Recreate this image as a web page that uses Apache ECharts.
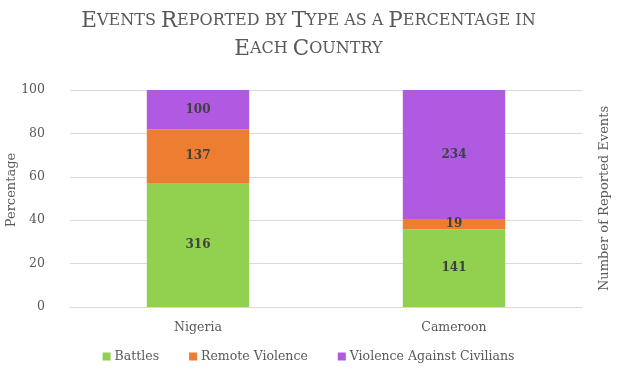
<!DOCTYPE html>
<html>
<head>
<meta charset="utf-8">
<script src="https://cdn.jsdelivr.net/npm/echarts@6/dist/echarts.min.js"></script>
<style>
  html, body { margin: 0; padding: 0; background: #fff; }
  #chart { width: 617px; height: 377px; }
</style>
</head>
<body>
<div id="chart"></div>
<script>
const countries = ["Nigeria", "Cameroon"];
const battles = [316, 141];
const remoteViolence = [137, 19];
const violenceCivilians = [100, 234];
const yTicks = [0, 20, 40, 60, 80, 100];

const FONT = "DejaVu Serif";
const colors = ["#92D050", "#ED7D31", "#B05AE2"];

// share of each country's total, counts shown as labels
const totals = countries.map((c, i) => battles[i] + remoteViolence[i] + violenceCivilians[i]);
function toPct(arr) {
  return arr.map((v, i) => ({ value: v / totals[i] * 100, count: v }));
}

function makeSeries(name, arr, idx) {
  return {
    name: name,
    type: "bar",
    stack: "total",
    barWidth: "40%",
    itemStyle: { color: colors[idx] },
    label: {
      show: true,
      position: "inside",
      formatter: (p) => p.data.count,
      fontFamily: FONT,
      fontWeight: "bold",
      fontSize: 12,
      color: "#404040",
    },
    data: toPct(arr),
  };
}

const chart = echarts.init(document.getElementById("chart"));
chart.setOption({
  animation: false,
  title: {
    left: "center",
    top: 2,
    text: "{b|E}{s|VENTS} {b|R}{s|EPORTED BY} {b|T}{s|YPE AS A} {b|P}{s|ERCENTAGE IN}\n{b|E}{s|ACH} {b|C}{s|OUNTRY}",
    textStyle: {
      fontWeight: "normal",
      rich: {
        b: { fontFamily: FONT, fontSize: 21.5, fontWeight: "normal", color: "#595959", lineHeight: 28 },
        s: { fontFamily: FONT, fontSize: 16, fontWeight: "normal", color: "#595959", lineHeight: 28 },
      },
    },
  },
  graphic: [
    {
      type: "text",
      x: 5,
      y: 190,
      rotation: Math.PI / 2,
      style: {
        text: "Percentage",
        fontFamily: FONT,
        fontSize: 13,
        fill: "#595959",
        align: "center",
        verticalAlign: "top",
      },
    },
  ],
  legend: {
    bottom: 9,
    left: "center",
    icon: "rect",
    itemWidth: 8,
    itemHeight: 8,
    itemGap: 30,
    textStyle: { fontFamily: FONT, fontSize: 12.5, color: "#595959", padding: [0, 0, 0, -1] },
    data: ["Battles", "Remote Violence", "Violence Against Civilians"],
  },
  grid: { left: 70, right: 35, top: 90, bottom: 70, outerBoundsMode: "none" },
  xAxis: {
    type: "category",
    data: countries,
    axisTick: { show: false },
    axisLine: { lineStyle: { color: "#d9d9d9" } },
    axisLabel: { fontFamily: FONT, fontSize: 12.5, color: "#595959", margin: 14 },
  },
  yAxis: [
    {
      type: "value",
      min: yTicks[0],
      max: yTicks[yTicks.length - 1],
      interval: 20,
      axisLabel: { fontFamily: FONT, fontSize: 12.5, color: "#595959", margin: 25 },
      splitLine: { lineStyle: { color: "#d9d9d9" } },
    },
    {
      type: "value",
      position: "right",
      min: 0,
      max: 100,
      name: "Number of Reported Events",
      nameLocation: "middle",
      nameRotate: 90,
      nameGap: 16,
      nameTextStyle: { fontFamily: FONT, fontSize: 13, color: "#595959" },
      axisLabel: { show: false },
      axisLine: { show: false },
      axisTick: { show: false },
      splitLine: { show: false },
    },
  ],
  series: [
    makeSeries("Battles", battles, 0),
    makeSeries("Remote Violence", remoteViolence, 1),
    makeSeries("Violence Against Civilians", violenceCivilians, 2),
  ],
});
</script>
</body>
</html>
